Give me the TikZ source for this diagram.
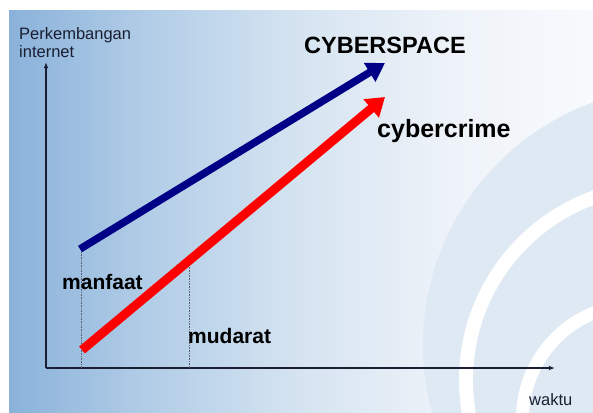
\documentclass[tikz,border=0pt]{standalone}
\usepackage{fontspec}
\setmainfont{Liberation Sans}
\usetikzlibrary{arrows.meta}
\definecolor{bgA}{RGB}{138,178,218}
\definecolor{bgB}{RGB}{178,205,231}
\definecolor{bgC}{RGB}{214,228,241}
\definecolor{bgD}{RGB}{238,243,249}
\definecolor{bgE}{RGB}{248,250,253}
\definecolor{arcblue}{RGB}{222,233,244}
\definecolor{navyline}{RGB}{0,0,135}
\definecolor{axiscol}{RGB}{25,30,50}
\pgfdeclarehorizontalshading{bgshade}{100bp}{color(0bp)=(bgA); color(25bp)=(bgA); color(37bp)=(bgB); color(50bp)=(bgC); color(63bp)=(bgD); color(75bp)=(bgE); color(100bp)=(bgE)}
\tikzset{
  axisline/.style={draw=axiscol, line width=1.1pt, -{Latex[length=6pt,width=4.5pt]}},
  guide/.style={draw=axiscol!70, line width=0.6pt, densely dotted},
  trendblue/.style={draw=navyline, line width=7.5pt, -{Triangle[length=18pt,width=21pt]}},
  trendred/.style={draw=red, line width=9pt, -{Triangle[length=18pt,width=23pt]}},
  axislabel/.style={inner sep=0pt, anchor=base west, text=axiscol, font=\fontsize{16.5}{19}\selectfont},
  boldlabel/.style={inner sep=0pt, anchor=base west, text=black, font=\bfseries\fontsize{21}{24}\selectfont}
}
\begin{document}
\begin{tikzpicture}[x=1pt,y=-1pt]
\useasboundingbox (0,0) rectangle (593,412);
\fill[white] (0,0) rectangle (593,412);
\shade[shading=bgshade] (9,11) rectangle (593,412);
\begin{scope}
  \clip (9,11) rectangle (593,412);
  \fill[arcblue] (681,345) circle[radius=258pt];
  \fill[white] (660,380) circle[radius=201pt];
  \fill[arcblue] (660,380) circle[radius=187pt];
  \fill[white] (637,419) circle[radius=121pt];
  \fill[arcblue] (637,419) circle[radius=108pt];
\end{scope}
% axes
\coordinate (O) at (46,368);
\coordinate (ytop) at (46,62);
\coordinate (xend) at (555,368);
\draw[axisline] (O) -- (ytop);
\draw[axisline] (O) -- (xend);
% guides
\coordinate (g1top) at (81,252);
\coordinate (g1bot) at (81,368);
\coordinate (g2top) at (189,265);
\coordinate (g2bot) at (189,368);
\draw[guide] (g1top) -- (g1bot);
\draw[guide] (g2top) -- (g2bot);
% trends
\coordinate (b0) at (80,249);
\coordinate (b1) at (385,63);
\coordinate (r0) at (82,350);
\coordinate (r1) at (385,97);
\draw[trendblue] (b0) -- (b1);
\draw[trendred] (r0) -- (r1);
% labels
\node[axislabel] (ylab1) at (19,39) {Perkembangan};
\node[axislabel] (ylab2) at (19,57) {internet};
\node[axislabel] (xlab) at (529,405) {waktu};
\node[boldlabel, font=\bfseries\fontsize{23.5}{27}\selectfont] (cs) at (304,53) {CYBERSPACE};
\node[boldlabel, font=\bfseries\fontsize{25}{28}\selectfont] (cc) at (377,137) {cybercrime};
\node[boldlabel] (mf) at (62,289) {manfaat};
\node[boldlabel] (md) at (188,343) {mudarat};
\end{tikzpicture}
\end{document}
